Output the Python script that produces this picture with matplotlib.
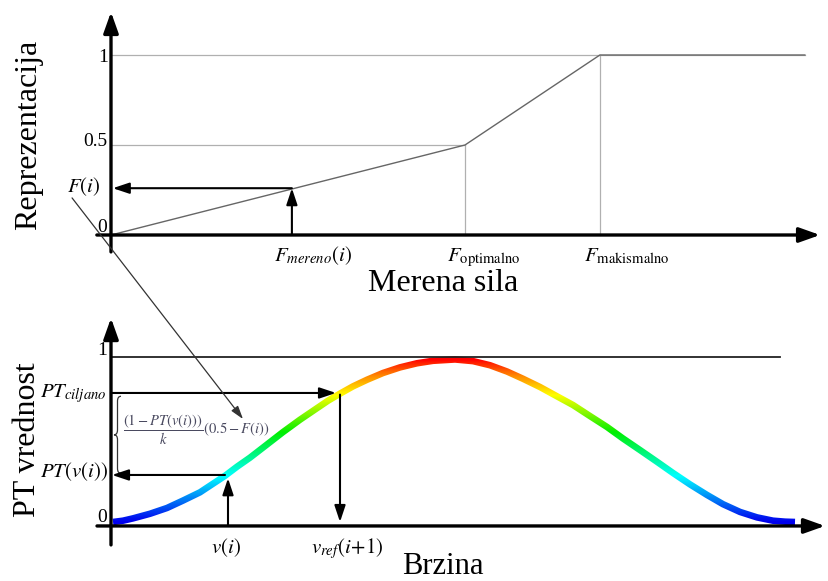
import numpy as np
import matplotlib
matplotlib.use("Agg")
import matplotlib.pyplot as plt
from matplotlib.colors import LinearSegmentedColormap
from matplotlib.path import Path
from matplotlib.patches import PathPatch, Polygon

plt.rcParams['font.family'] = ['Liberation Serif', 'DejaVu Serif']
plt.rcParams['mathtext.fontset'] = 'stix'

# gornji grafik: reprezentacija merene sile
sila = [0.0, 1.0, 1.381, 1.96]
reprezentacija = [0.0, 0.5, 1.0, 1.0]
f_optimalno = 1.0
f_maksimalno = 1.381
f_mereno = 0.511
f_i = 0.26

# donji grafik: PT vrednost u zavisnosti od brzine
brzina = [0.02, 0.12, 0.22, 0.39, 0.56, 0.72, 0.89, 1.01, 1.14, 1.26, 1.39, 1.55,
          1.72, 1.89, 2.06, 2.17, 2.29, 2.42, 2.56, 2.72, 2.89, 3.06, 3.22, 3.44,
          3.62, 3.79, 3.96, 4.12, 4.29, 4.45, 4.62, 4.79, 4.96, 5.12, 5.29, 5.46,
          5.62, 5.79, 5.96, 6.12, 6.29, 6.46, 6.62, 6.74, 6.84]
pt_vrednost = [0.000, 0.008, 0.022, 0.050, 0.085, 0.130, 0.180, 0.228, 0.280, 0.335,
               0.390, 0.465, 0.545, 0.620, 0.690, 0.735, 0.778, 0.822, 0.862, 0.903,
               0.937, 0.962, 0.977, 0.985, 0.975, 0.950, 0.912, 0.868, 0.818, 0.765,
               0.709, 0.642, 0.576, 0.506, 0.436, 0.365, 0.297, 0.228, 0.164, 0.108,
               0.061, 0.028, 0.008, 0.002, 0.000]
v_i = 1.17
pt_v_i = 0.285
v_ref = 2.29
pt_ciljano = 0.782
v_kraj_linije = 6.69

fig = plt.figure(figsize=(8.29, 5.81), dpi=100)
ax1 = fig.add_axes([0, 0, 1, 1], label='gore')
ax2 = fig.add_axes([0, 0, 1, 1], label='dole')
lim1 = ((-111 / 354, 718 / 354), ((235 - 581) / 180, 235 / 180))
lim2 = ((-1.11, 7.18), ((522 - 581) / 165, 522 / 165))
for ax, (xl, yl) in ((ax1, lim1), (ax2, lim2)):
    ax.axis('off')
    ax.patch.set_alpha(0)
    ax.set_xlim(*xl)
    ax.set_ylim(*yl)

osa = dict(arrowstyle='-|>,head_length=0.9,head_width=0.32', color='black',
           lw=2.4, shrinkA=0, shrinkB=0, mutation_scale=14)
strelica = dict(arrowstyle='-|>,head_length=0.9,head_width=0.3', color='black',
                lw=1.5, shrinkA=0, shrinkB=0, mutation_scale=11)


def brace(ax, x, y_top, y_bot, w, dy):
    ym = (y_top + y_bot) / 2
    xm = x + w / 2
    xr = x + w
    verts = [(xr, y_top), (xm, y_top), (xm, y_top - dy),
             (xm, ym + dy),
             (xm, ym), (x, ym),
             (xm, ym), (xm, ym - dy),
             (xm, y_bot + dy),
             (xm, y_bot), (xr, y_bot)]
    codes = [Path.MOVETO, Path.CURVE3, Path.CURVE3, Path.LINETO,
             Path.CURVE3, Path.CURVE3, Path.CURVE3, Path.CURVE3,
             Path.LINETO, Path.CURVE3, Path.CURVE3]
    ax.add_patch(PathPatch(Path(verts, codes), fill=False, lw=0.9, color='#333333'))


# ---- gornji grafik ----
ax1.plot([0, sila[-1]], [1, 1], color='#b0b0b0', lw=0.9)
ax1.plot([0, f_optimalno], [0.5, 0.5], color='#b0b0b0', lw=0.9)
ax1.plot([f_optimalno, f_optimalno], [0, 0.5], color='#b0b0b0', lw=0.9)
ax1.plot([f_maksimalno, f_maksimalno], [0, 1], color='#b0b0b0', lw=0.9)
ax1.plot(sila, reprezentacija, color='#666666', lw=1.0)

ax1.annotate('', xy=(2.003, 0), xytext=(-0.04, 0), arrowprops=osa)
ax1.annotate('', xy=(0, 1.239), xytext=(0, -0.094), arrowprops=osa)
ax1.annotate('', xy=(f_mereno, f_i), xytext=(f_mereno, 0), arrowprops=strelica)
ax1.annotate('', xy=(0.005, f_i), xytext=(f_mereno, f_i), arrowprops=strelica)

ax1.text(-0.008, 0.985, '1', ha='right', va='center', fontsize=14)
ax1.text(-0.01, 0.52, '0.5', ha='right', va='center', fontsize=14)
ax1.text(-0.011, 0.044, '0', ha='right', va='center', fontsize=14)
ax1.text(-0.03, f_i + 0.01, r'$F(i)$', ha='right', va='center', fontsize=15)

ax1.text(0.571, -0.144, r'$F_{mereno}(i)$', ha='center', va='baseline', fontsize=15)
ax1.text(0.949, -0.144, r'$F_{\mathrm{optimalno}}$', ha='left', va='baseline', fontsize=15)
ax1.text(1.336, -0.144, r'$F_{\mathrm{makismalno}}$', ha='left', va='baseline', fontsize=15)
ax1.text(0.938, -0.267, 'Merena sila', ha='center', va='center', fontsize=23)
ax1.text(-0.234, 0.556, 'Reprezentacija', ha='center', va='center', fontsize=23, rotation=90)

# ---- donji grafik ----
ax2.plot([0, v_kraj_linije], [1, 1], color='#222222', lw=1.3)

# kriva obojena po visini: gradijent isecen oblikom debele linije
tacke = np.column_stack([brzina, pt_vrednost])
disp = ax2.transData.transform(tacke)
tang = np.gradient(disp, axis=0)
tang /= np.linalg.norm(tang, axis=1, keepdims=True)
normala = np.column_stack([-tang[:, 1], tang[:, 0]]) * 3.3
obris = np.vstack([disp + normala, (disp - normala)[::-1]])
obris = ax2.transData.inverted().transform(obris)
traka = Polygon(obris, closed=True, facecolor='none', edgecolor='none')
ax2.add_patch(traka)

cmap = LinearSegmentedColormap.from_list(
    'pt', [(0, '#0000ee'), (0.28, '#00ffff'), (0.55, '#00ee00'),
           (0.78, '#ffff00'), (0.9, '#ff8800'), (1, '#ff0000')])
gradijent = np.linspace(-0.03, 1.02, 300).reshape(-1, 1)
slika = ax2.imshow(gradijent, cmap=cmap, vmin=0, vmax=0.985, origin='lower',
                   extent=(-0.1, 7.0, -0.03, 1.02), aspect='auto',
                   interpolation='bilinear')
slika.set_clip_path(traka)

ax2.annotate('', xy=(7.14, -0.024), xytext=(-0.14, -0.024), arrowprops=osa)
ax2.annotate('', xy=(0, 1.236), xytext=(0, -0.139), arrowprops=osa)
ax2.annotate('', xy=(v_ref - 0.04, pt_ciljano), xytext=(0, pt_ciljano), arrowprops=strelica)
ax2.annotate('', xy=(v_ref, 0.0), xytext=(v_ref, pt_ciljano - 0.01), arrowprops=strelica)
ax2.annotate('', xy=(0.01, pt_v_i), xytext=(v_i - 0.03, pt_v_i), arrowprops=strelica)
ax2.annotate('', xy=(v_i, pt_v_i - 0.02), xytext=(v_i, -0.024), arrowprops=strelica)

brace(ax2, 0.03, pt_ciljano - 0.02, pt_v_i + 0.01, 0.07, 0.03)
ax2.text(0.12, 0.56, r'$\dfrac{(1-PT(v(i)))}{k}(0.5-F(i))$', ha='left', va='center',
         fontsize=10.5, color='#4a4a60')

ax2.text(-0.04, 1.04, '1', ha='right', va='center', fontsize=14)
ax2.text(-0.04, 0.03, '0', ha='right', va='center', fontsize=14)
ax2.text(-0.04, 0.758, r'$PT_{ciljano}$', ha='right', va='baseline', fontsize=15)
ax2.text(-0.03, 0.27, r'$PT(v(i))$', ha='right', va='baseline', fontsize=15)
ax2.text(1.15, -0.188, r'$v(i)$', ha='center', va='baseline', fontsize=15)
ax2.text(2.36, -0.188, r'$v_{ref}(i\!+\!1)$', ha='center', va='baseline', fontsize=15)
ax2.text(3.32, -0.268, 'Brzina', ha='center', va='center', fontsize=22)
ax2.text(-0.84, 0.497, 'PT vrednost', ha='center', va='center', fontsize=23, rotation=90)

# dijagonalna veza F(i) -> formula
ax2.annotate('', xy=(1.32, 0.624), xycoords=ax2.transData,
             xytext=(-0.110, 0.206), textcoords=ax1.transData,
             arrowprops=dict(arrowstyle='-|>,head_length=0.8,head_width=0.25',
                             color='#333333', lw=0.9, shrinkA=0, shrinkB=0,
                             mutation_scale=10))

for ax, (xl, yl) in ((ax1, lim1), (ax2, lim2)):
    ax.set_xlim(*xl)
    ax.set_ylim(*yl)

fig.savefig('out.png', dpi=100)
